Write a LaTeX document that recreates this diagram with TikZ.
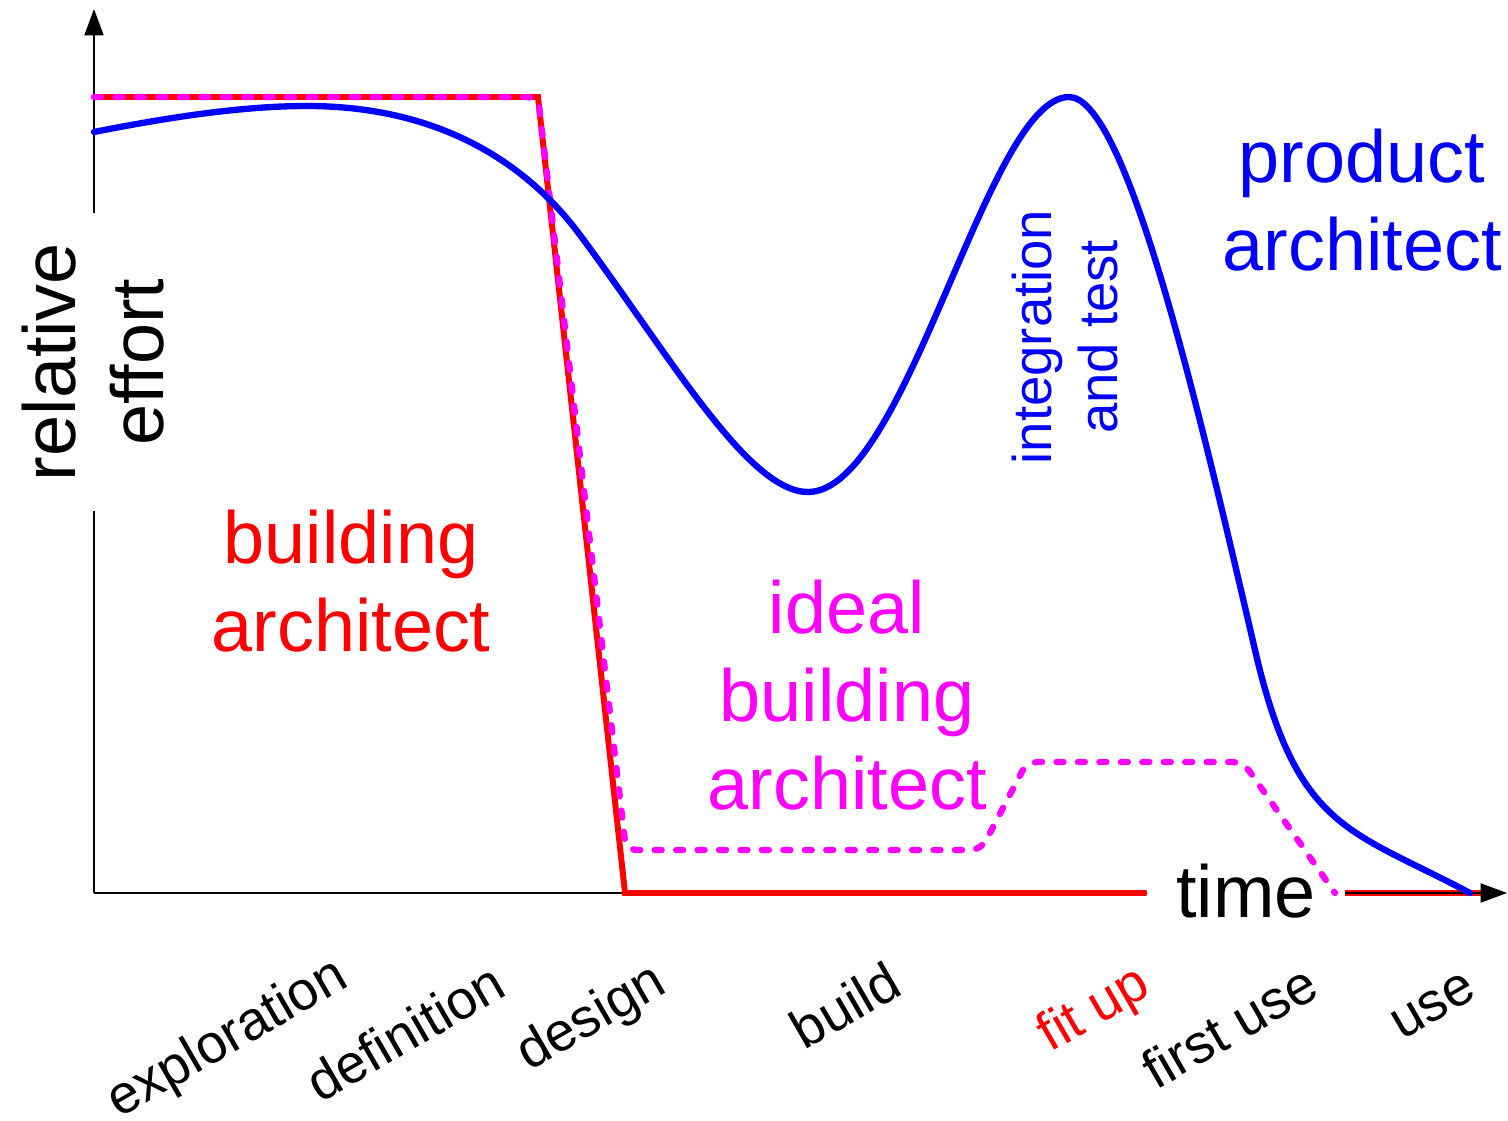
\documentclass[tikz,border=0pt]{standalone}
\usepackage{fontspec}
\setmainfont{Liberation Sans}
\usepackage{tikz}
\usetikzlibrary{positioning,calc,arrows.meta}
\definecolor{idealmagenta}{RGB}{255,0,255}
\definecolor{buildred}{RGB}{255,0,0}
\definecolor{productblue}{RGB}{0,0,255}
\tikzset{>={Triangle[length=7.5pt,width=5.4pt]}}
\tikzset{
  biglabel/.style={font=\fontsize{21}{25}\selectfont,align=center,inner sep=0pt},
  smalllabel/.style={font=\fontsize{15.5}{18.5}\selectfont,align=center,inner sep=0pt},
  phase/.style={smalllabel,rotate=30},
  axislabel/.style={biglabel,inner xsep=0.29cm},
  axis/.style={line width=0.6pt},
  buildline/.style={buildred,line width=1.7pt},
  idealline/.style={idealmagenta,line width=1.8pt,line cap=round,dash pattern=on 2pt off 4.1pt},
  productline/.style={productblue,line width=1.8pt,line cap=round}
}

\begin{document}
\begin{tikzpicture}[x=0.01cm,y=-0.01cm]
% Frame in pixels, y down
\useasboundingbox (0,0) rectangle (1508,1121);

% Origin and axis tips
\coordinate (O) at (94,893);
\coordinate (ytip) at (94,9);
\coordinate (xtip) at (1507,893);
\coordinate (redend) at (1490,893);

% Axis labels
\node[axislabel,rotate=90] (effort) at (93,362) {relative\\effort};
\node[axislabel] (time) at (1246,891) {time};

% Axes
\draw[axis] (O) -- (O |- effort.west);
\draw[axis,->] (O |- effort.east) -- (ytip);
\draw[axis] (O) -- (O -| time.west);

% Building architect
\draw[buildline] (94,97) -- (538,97) -- (625,893) -- (O -| time.west);
\draw[buildline] (O -| time.east) -- (redend);
\draw[axis,->] (O -| time.east) -- (xtip);

% Ideal building architect
\draw[idealline,rounded corners=3pt] (94,97) -- (538,97) -- (626,850) -- (981,850)
   -- (1027,762) -- (1243,762) -- (1335,893);

% Product architect
\coordinate (P1) at (307,106);
\coordinate (P2) at (808,492);
\coordinate (P3) at (1069,97);
\coordinate (P4) at (1470,893);
\draw[productline] (94,132) .. controls (165,118) and (240,106) .. (P1)
   .. controls (437,106) and (525,161) .. (580,235)
   .. controls (670,356) and (748,492) .. (P2)
   .. controls (907,492) and (987,97) .. (P3)
   .. controls (1125,97) and (1195,392) .. (1255,650)
   .. controls (1297,831) and (1350,829) .. (P4);

% Labels of the curves
\node[biglabel,buildred] (building) at (351,581) {building\\architect};
\node[biglabel,idealmagenta] (ideal) at (847,695) {ideal\\building\\architect};
\node[biglabel,productblue] (product) at (1362,200) {product\\architect};
\node[smalllabel,productblue,rotate=90] (integration) at (1065,337) {integration\\and test};

% Phases
\node[phase] (explor) at (228,1040) {exploration};
\node[phase] (defin) at (405,1032) {definition};
\node[phase] (design) at (592,1019) {design};
\node[phase] (build) at (845,1005) {build};
\node[phase,buildred] (fitup) at (1095,1011) {fit up};
\node[phase] (firstuse) at (1229,1026) {first use};
\node[phase] (use) at (1433,1006) {use};
\end{tikzpicture}
\end{document}
